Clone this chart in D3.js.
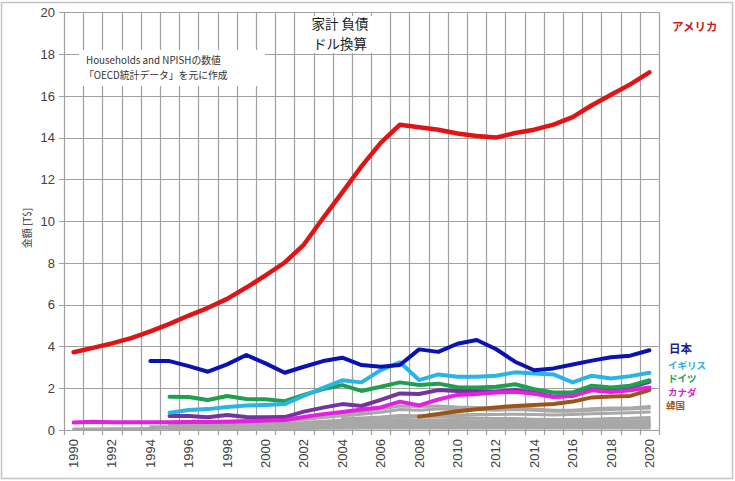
<!DOCTYPE html>
<html><head><meta charset="utf-8">
<script src="https://cdn.jsdelivr.net/npm/d3@7"></script>
<style>
html,body{margin:0;padding:0;background:#fff;}
svg{display:block;}
text{font-family:"Liberation Sans","Noto Sans CJK JP",Arial,sans-serif;}
</style></head>
<body>
<svg id="c" width="735" height="481"></svg>
<script>
const years = [1990,1991,1992,1993,1994,1995,1996,1997,1998,1999,2000,2001,2002,2003,2004,2005,2006,2007,2008,2009,2010,2011,2012,2013,2014,2015,2016,2017,2018,2019,2020];
const yTicks = [0,2,4,6,8,10,12,14,16,18,20];
const xLabelYears = [1990,1992,1994,1996,1998,2000,2002,2004,2006,2008,2010,2012,2014,2016,2018,2020];

const usa     = [3.72,3.93,4.15,4.4,4.72,5.08,5.48,5.85,6.28,6.82,7.4,8.02,8.88,10.15,11.38,12.62,13.75,14.62,14.5,14.38,14.2,14.08,14.0,14.22,14.38,14.62,14.98,15.55,16.05,16.55,17.12];
const japan   = [null,null,null,null,3.3,3.3,3.06,2.79,3.14,3.59,3.19,2.74,3.03,3.3,3.46,3.11,3.03,3.11,3.86,3.74,4.13,4.31,3.88,3.27,2.86,2.95,3.14,3.32,3.48,3.56,3.82];
const uk      = [null,null,null,null,null,0.83,0.96,1.0,1.1,1.17,1.2,1.24,1.64,2.02,2.38,2.28,2.87,3.24,2.39,2.66,2.55,2.55,2.6,2.76,2.7,2.66,2.28,2.6,2.47,2.58,2.74];
const germany = [null,null,null,null,null,1.59,1.58,1.44,1.63,1.48,1.47,1.38,1.68,1.96,2.15,1.87,2.07,2.28,2.15,2.22,2.05,2.03,2.07,2.19,1.95,1.8,1.8,2.12,2.04,2.12,2.38];
const canada  = [0.36,0.4,0.37,0.37,0.37,0.37,0.38,0.38,0.4,0.42,0.45,0.48,0.62,0.76,0.86,0.98,1.08,1.36,1.18,1.46,1.68,1.72,1.79,1.83,1.74,1.58,1.64,1.9,1.82,1.9,2.04];
const purple  = [null,null,null,null,null,0.67,0.67,0.61,0.72,0.62,0.61,0.62,0.88,1.07,1.24,1.15,1.44,1.75,1.72,1.91,1.87,1.87,1.84,1.91,1.8,1.6,1.63,1.96,1.91,2.04,2.31];
const korea   = [null,null,null,null,null,null,null,null,null,null,null,null,null,null,null,null,null,null,0.64,0.77,0.9,0.99,1.08,1.15,1.2,1.24,1.36,1.56,1.6,1.63,1.91];

const grayA = [null,null,null,null,null,0.35,0.38,0.4,0.42,0.45,0.47,0.5,0.58,0.7,0.8,0.88,1.0,1.15,1.12,1.15,1.1,1.08,1.05,1.05,1.0,0.95,0.95,1.02,1.05,1.05,1.12];
const grayB = [null,null,null,null,null,0.3,0.32,0.35,0.37,0.4,0.42,0.45,0.5,0.6,0.68,0.75,0.85,0.98,0.95,1.0,1.0,0.98,0.95,0.98,0.95,0.9,0.9,0.95,0.98,1.0,1.05];
const grayC = [null,null,null,null,null,0.25,0.26,0.27,0.28,0.3,0.31,0.33,0.36,0.42,0.47,0.52,0.58,0.65,0.62,0.62,0.6,0.58,0.55,0.55,0.52,0.5,0.5,0.52,0.55,0.56,0.6];
const grayD = [null,null,null,null,null,0.2,0.21,0.22,0.23,0.25,0.26,0.28,0.3,0.34,0.38,0.41,0.45,0.5,0.48,0.47,0.45,0.44,0.42,0.42,0.4,0.38,0.38,0.4,0.42,0.43,0.46];
const grayE = [null,null,null,null,0.15,0.16,0.17,0.17,0.18,0.19,0.2,0.21,0.23,0.26,0.29,0.31,0.34,0.38,0.36,0.35,0.34,0.33,0.32,0.32,0.31,0.3,0.3,0.31,0.32,0.33,0.35];
const grayF = [0.05,0.05,0.06,0.06,0.07,0.08,0.09,0.1,0.11,0.12,0.13,0.14,0.16,0.18,0.2,0.22,0.24,0.27,0.26,0.26,0.25,0.25,0.24,0.24,0.23,0.22,0.22,0.23,0.24,0.25,0.27];
const grayG = [null,null,null,null,null,0.1,0.1,0.11,0.11,0.12,0.12,0.13,0.14,0.15,0.16,0.17,0.18,0.2,0.19,0.19,0.18,0.18,0.17,0.17,0.17,0.16,0.16,0.17,0.17,0.18,0.19];
const grayH = [null,null,null,null,null,0.05,0.05,0.05,0.06,0.06,0.06,0.07,0.07,0.08,0.08,0.09,0.09,0.1,0.1,0.1,0.1,0.1,0.09,0.09,0.09,0.09,0.09,0.09,0.1,0.1,0.1];
const grayI = [null,null,null,null,null,null,null,null,null,null,null,null,null,null,0.55,0.58,0.62,0.7,0.68,0.72,0.72,0.74,0.74,0.76,0.74,0.72,0.74,0.78,0.8,0.82,0.86];

const seriesData = [grayA,grayB,grayC,grayD,grayE,grayF,grayG,grayH,grayI,korea,purple,canada,germany,uk,japan,usa];
const seriesColors = ["#a8a8a8","#a8a8a8","#a8a8a8","#a8a8a8","#a8a8a8","#a8a8a8","#a8a8a8","#a8a8a8","#a8a8a8","#9c5418","#7434a0","#e51ee0","#1ea050","#28b4e4","#0a12b4","#e01414"];
const seriesWidths = [3,3,3,3,3,3,3,3,3,4,4,4,4,4,4,4.5];

const labelNames = ["アメリカ","日本","イギリス","ドイツ","カナダ","韓国"];
const labelColors = ["#c81e1e","#1c2090","#2cb0d8","#22a050","#d424d0","#a05a24"];
const labelY = [27,349,365.5,379,392.5,406];
const labelX = [672,669,668,668,668,666];

const titleLines = ["家計 負債","ドル換算"];
const noteLines = ["Households and NPISHの数値","「OECD統計データ」を元に作成"];

const svg = d3.select("#c");
const L = 64, R = 659, T = 12.3, B = 430;

svg.append("rect").attr("x",1.5).attr("y",2.5).attr("width",731).attr("height",476)
  .attr("fill","#fff").attr("stroke","#c4c4c4").attr("stroke-width",1.5);

const x = d3.scaleBand().domain(years).range([L,R]).padding(0);
const y = d3.scaleLinear().domain([0,20]).range([B,T]);

svg.append("g").selectAll("line").data(yTicks).join("line")
  .attr("x1",L-5).attr("x2",R).attr("y1",d=>Math.round(y(d))+0.5).attr("y2",d=>Math.round(y(d))+0.5)
  .attr("stroke","#a0a0a0").attr("stroke-width",1.2);
const bounds = years.map(d=>x(d)).concat([R]);
svg.append("g").selectAll("line").data(bounds).join("line")
  .attr("x1",d=>Math.round(d)+0.5).attr("x2",d=>Math.round(d)+0.5)
  .attr("y1",T).attr("y2",B+5)
  .attr("stroke","#a0a0a0").attr("stroke-width",1.2);

svg.append("rect").attr("x",79).attr("y",50).attr("width",186).attr("height",36).attr("fill","#fff");
svg.append("rect").attr("x",304).attr("y",16).attr("width",72).attr("height",37).attr("fill","#fff");

const yAxis = d3.axisLeft(y).tickValues(yTicks).tickSize(0).tickPadding(9);
const gy = svg.append("g").attr("transform",`translate(${L},0)`).call(yAxis);
gy.select(".domain").remove();
gy.selectAll("text").attr("font-size",13).attr("fill","#404040")
  .style("font-family","'Liberation Sans',Arial,sans-serif");

const gx = svg.append("g");
gx.selectAll("text").data(xLabelYears).join("text")
  .attr("transform",d=>`translate(${x(d)+x.bandwidth()/2+4.5},439) rotate(-90)`)
  .attr("text-anchor","end").attr("font-size",13).attr("fill","#404040")
  .text(d=>d);

const line = d3.line().defined(d=>d.v!=null).x(d=>x(d.yr)+x.bandwidth()/2).y(d=>y(d.v));
seriesData.forEach((arr,i)=>{
  const pts = years.map((yr,j)=>({yr:yr,v:arr[j]}));
  svg.append("path").attr("d",line(pts)).attr("fill","none")
    .attr("stroke",seriesColors[i]).attr("stroke-width",seriesWidths[i])
    .attr("stroke-linejoin","round").attr("stroke-linecap","round");
});

svg.append("g").selectAll("text").data(titleLines).join("text")
  .attr("x",340).attr("y",(d,i)=>29+i*20).attr("text-anchor","middle")
  .attr("font-size",13.5).attr("fill","#222").style("font-family","'Noto Sans CJK JP',sans-serif")
  .text(d=>d);

svg.append("g").selectAll("text").data(noteLines).join("text")
  .attr("x",(d,i)=>i===0?86:84).attr("y",(d,i)=>64+i*14.5)
  .attr("font-size",9.8).attr("fill","#333").style("font-family","'Noto Sans CJK JP',sans-serif")
  .text(d=>d);

svg.append("text").attr("transform","translate(31,228) rotate(-90)").attr("text-anchor","middle")
  .attr("font-size",10).attr("fill","#333").style("font-family","'Noto Sans CJK JP',sans-serif").text("金額 [T$]");

svg.append("g").selectAll("text").data(labelNames).join("text")
  .attr("x",(d,i)=>labelX[i]).attr("y",(d,i)=>labelY[i]).attr("dy","0.35em")
  .attr("font-size",(d,i)=> i===0||i===1 ? 11.5 : 9.5).attr("font-weight","bold").attr("fill",(d,i)=>labelColors[i])
  .style("font-family","'Noto Sans CJK JP',sans-serif").text(d=>d);
</script>
</body></html>
